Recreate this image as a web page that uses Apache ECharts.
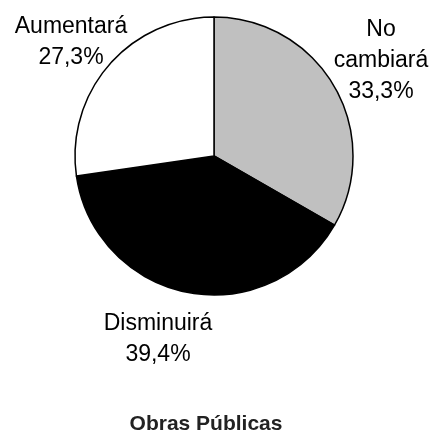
<!DOCTYPE html>
<html>
<head>
<meta charset="utf-8">
<script src="https://cdn.jsdelivr.net/npm/echarts@6/dist/echarts.min.js"></script>
<style>html,body{margin:0;padding:0;background:#fff}#c{width:436px;height:430px}</style>
</head>
<body>
<div id="c"></div>
<script>
const categories = ['No cambiará', 'Disminuirá', 'Aumentará'];
const values = [33.3, 39.4, 27.3];
const colors = ['#c0c0c0', '#000000', '#ffffff'];
const chartTitle = 'Obras Públicas';

const labelPos = [[381, 61], [158, 339], [71, 42]];

const chart = echarts.init(document.getElementById('c'), null, {renderer: 'canvas'});
chart.setOption({
  animation: false,
  backgroundColor: '#fff',
  title: {
    text: chartTitle,
    left: 201,
    top: 409,
    textAlign: 'center',
    textStyle: {fontFamily: 'Liberation Sans', fontSize: 21, fontWeight: 'bold', color: '#222'}
  },
  series: [{
    type: 'pie',
    center: [214, 156],
    radius: 139,
    startAngle: 90,
    clockwise: true,
    data: categories.map((c, i) => ({name: c, value: values[i], itemStyle: {color: colors[i]}})),
    itemStyle: {borderColor: '#000', borderWidth: 1.5},
    labelLine: {show: false},
    label: {
      show: true,
      position: 'inside',
      overflow: 'none',
      fontFamily: 'Liberation Sans',
      fontSize: 23,
      lineHeight: 31,
      color: '#000',
      textBorderWidth: 0,
      align: 'center',
      formatter: p => p.name.replace(' ', '\n') + '\n' + p.value.toFixed(1).replace('.', ',') + '%'
    },
    labelLayout: p => ({x: labelPos[p.dataIndex][0], y: labelPos[p.dataIndex][1], align: 'center', verticalAlign: 'middle'}),
    emphasis: {disabled: true}
  }]
});
</script>
</body>
</html>
